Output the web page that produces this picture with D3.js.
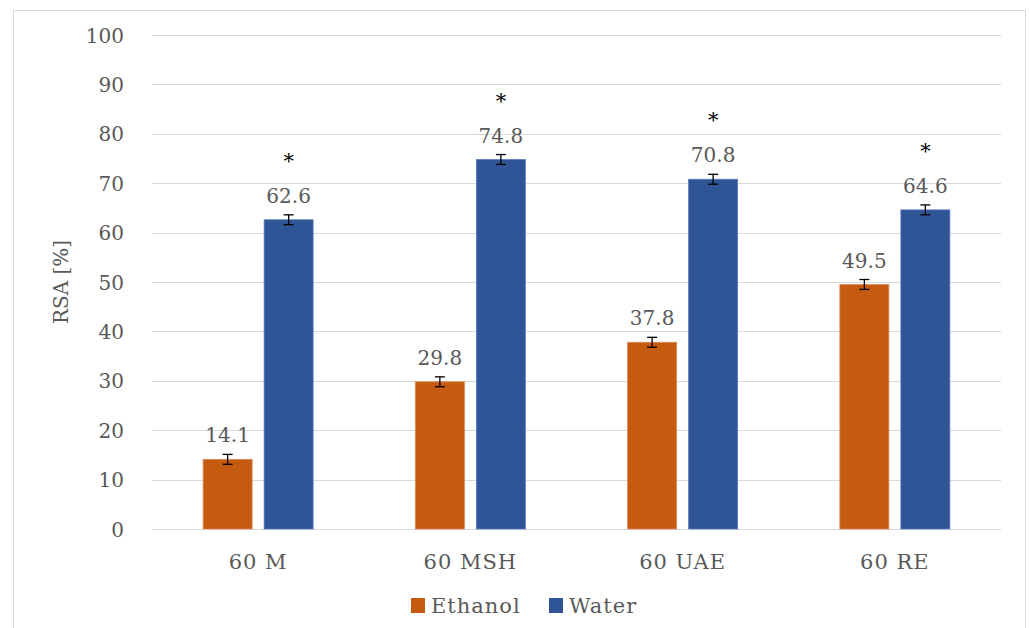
<!DOCTYPE html>
<html>
<head>
<meta charset="utf-8">
<script src="https://cdn.jsdelivr.net/npm/d3@7"></script>
<style>
  html, body { margin: 0; padding: 0; background: #fff; }
  svg { display: block; }
  text { font-family: "DejaVu Serif", "Liberation Serif", serif; fill: #595959; }
</style>
</head>
<body>
<svg id="chart" width="1030" height="628"></svg>
<script>
// RSA of extracts by method and solvent
const categories = ["60 M", "60 MSH", "60 UAE", "60 RE"];
const seriesNames = ["Ethanol", "Water"];
const ethanolValues = [14.1, 29.8, 37.8, 49.5];
const waterValues = [62.6, 74.8, 70.8, 64.6];
const ethanolErrors = [1.0, 1.0, 1.0, 1.0];
const waterErrors = [1.0, 1.0, 1.0, 1.0];
const waterSignificant = [true, true, true, true];
const yTicks = [0, 10, 20, 30, 40, 50, 60, 70, 80, 90, 100];
const colors = { Ethanol: "#C55A11", Water: "#2F5597" };

const svg = d3.select("#chart");

// outer frame
svg.append("rect")
  .attr("x", 13.5).attr("y", 10.5)
  .attr("width", 1012).attr("height", 640)
  .attr("fill", "none").attr("stroke", "#d9d9d9").attr("stroke-width", 1);

const plot = { left: 152, right: 1001, top: 35, bottom: 529 };

const x = d3.scaleBand().domain(categories)
  .range([plot.left, plot.right]).paddingInner(0).paddingOuter(0);
const y = d3.scaleLinear().domain([0, 100]).range([plot.bottom, plot.top]);

const barW = 49, gap = 12;
const xSub = d3.scaleOrdinal().domain(seriesNames)
  .range([-(gap / 2 + barW), gap / 2]);

// gridlines
svg.append("g")
  .selectAll("line").data(yTicks).join("line")
  .attr("x1", plot.left).attr("x2", plot.right)
  .attr("y1", d => Math.round(y(d)) + 0.5).attr("y2", d => Math.round(y(d)) + 0.5)
  .attr("stroke", "#d9d9d9").attr("stroke-width", 1.2);

// y axis labels
const yAxis = d3.axisLeft(y).tickValues(yTicks).tickSize(0).tickPadding(0);
const gy = svg.append("g").attr("transform", `translate(124,0)`).call(yAxis);
gy.select(".domain").remove();
gy.selectAll("text").style("font-size", "20px").attr("fill", "#595959")
  .attr("dy", "0.35em").style("font-family", "DejaVu Serif, serif");

// y axis title
svg.append("text")
  .attr("transform", `translate(68,${(plot.top + plot.bottom) / 2}) rotate(-90)`)
  .attr("text-anchor", "middle")
  .style("font-size", "20px")
  .text("RSA [%]");

// x axis labels
const xAxis = d3.axisBottom(x).tickSize(0).tickPadding(0);
const gx = svg.append("g").attr("transform", `translate(0,${plot.bottom + 25})`).call(xAxis);
gx.select(".domain").remove();
gx.selectAll("text").style("font-size", "21px").attr("fill", "#595959")
  .style("letter-spacing", "1px")
  .attr("dy", "0.71em").style("font-family", "DejaVu Serif, serif");

const rows = [];
categories.forEach((c, i) => {
  rows.push({ cat: c, series: "Ethanol", value: ethanolValues[i], err: ethanolErrors[i], star: false });
  rows.push({ cat: c, series: "Water", value: waterValues[i], err: waterErrors[i], star: waterSignificant[i] });
});
const cx = d => x(d.cat) + x.bandwidth() / 2 + xSub(d.series);

// bars
svg.append("g").selectAll("rect").data(rows).join("rect")
  .attr("x", d => cx(d))
  .attr("y", d => y(d.value))
  .attr("width", barW)
  .attr("height", d => y(0) - y(d.value))
  .attr("fill", d => colors[d.series])
  .attr("stroke", d => d.series === "Ethanol" ? "#d98a5a" : "#5a7bbf")
  .attr("stroke-width", 0.8);

// error bars
const eb = svg.append("g").attr("stroke", "#000").attr("stroke-width", 1.3);
rows.forEach(d => {
  const mx = cx(d) + barW / 2;
  const y1 = y(d.value + d.err), y2 = y(d.value - d.err);
  eb.append("line").attr("x1", mx).attr("x2", mx).attr("y1", y1).attr("y2", y2);
  eb.append("line").attr("x1", mx - 5).attr("x2", mx + 5).attr("y1", y1).attr("y2", y1);
  eb.append("line").attr("x1", mx - 5).attr("x2", mx + 5).attr("y1", y2).attr("y2", y2);
});

// value labels
svg.append("g").selectAll("text").data(rows).join("text")
  .attr("x", d => cx(d) + barW / 2)
  .attr("y", d => y(d.value + d.err) - 12)
  .attr("text-anchor", "middle")
  .style("font-size", "20px")
  .attr("fill", "#404040")
  .text(d => d.value.toFixed(1));

// significance markers
svg.append("g").selectAll("text").data(rows.filter(d => d.star)).join("text")
  .attr("x", d => cx(d) + barW / 2)
  .attr("y", d => y(d.value + d.err) - 47)
  .attr("text-anchor", "middle")
  .style("font-size", "21px")
  .attr("fill", "#000")
  .style("fill", "#000")
  .text("*");

// legend
const legend = svg.append("g").attr("transform", "translate(411,598)");
const legX = [0, 138];
seriesNames.forEach((s, i) => {
  const g = legend.append("g").attr("transform", `translate(${legX[i]},0)`);
  g.append("rect").attr("width", 14).attr("height", 15).attr("fill", colors[s]);
  g.append("text").attr("x", 20).attr("y", 8).attr("dy", "0.35em")
    .style("font-size", "21px").style("letter-spacing", "1px").text(s);
});
</script>
</body>
</html>
